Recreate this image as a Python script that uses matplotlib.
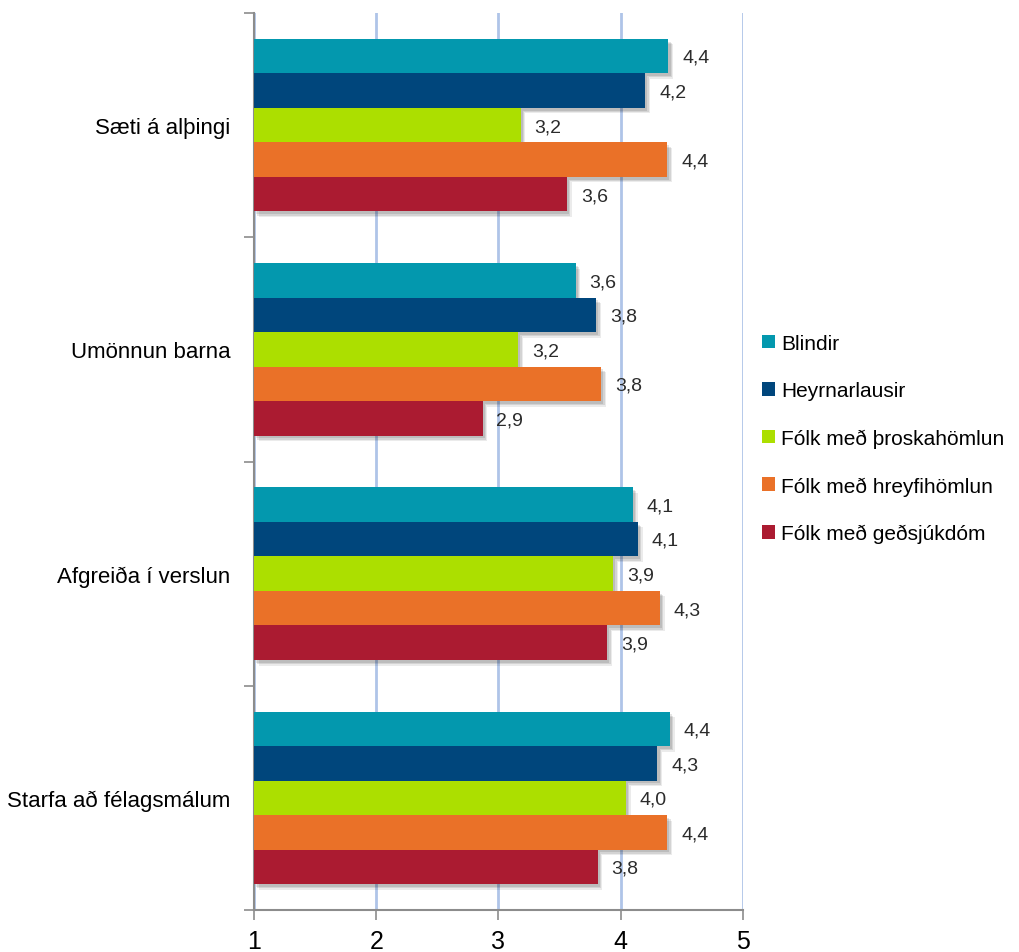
import matplotlib
matplotlib.use('Agg')
import matplotlib.pyplot as plt
import matplotlib.patheffects as pe
from matplotlib.patches import Patch
import numpy as np

plt.rcParams['font.family'] = ['Liberation Sans', 'DejaVu Sans']

# data
categories = ['Sæti á alþingi', 'Umönnun barna', 'Afgreiða í verslun', 'Starfa að félagsmálum']
series_names = ['Blindir', 'Heyrnarlausir', 'Fólk með þroskahömlun',
                'Fólk með hreyfihömlun', 'Fólk með geðsjúkdóm']
blindir = [4.39, 3.63, 4.10, 4.40]
heyrnarlausir = [4.20, 3.80, 4.14, 4.30]
throskahomlun = [3.18, 3.16, 3.94, 4.04]
hreyfihomlun = [4.38, 3.84, 4.32, 4.38]
gedsjukdom = [3.56, 2.87, 3.89, 3.81]
series_values = [blindir, heyrnarlausir, throskahomlun, hreyfihomlun, gedsjukdom]
colors = ['#0398AE', '#00467C', '#ACDF00', '#EA7128', '#AB1B31']

fig = plt.figure(figsize=(10.19, 9.53), dpi=100)
ax = fig.add_axes([254 / 1019, 42 / 953, 489 / 1019, 897 / 953])

# fake blurred drop shadow
shadow = [pe.SimplePatchShadow(offset=(1.5, -2), shadow_rgbFace='k', alpha=0.10),
          pe.SimplePatchShadow(offset=(2.5, -3), shadow_rgbFace='k', alpha=0.10),
          pe.SimplePatchShadow(offset=(3.5, -4), shadow_rgbFace='k', alpha=0.08),
          pe.Normal()]

y = np.arange(len(categories))
group_h = 0.77
bar_h = group_h / len(series_names)
for i, (name, vals, col) in enumerate(zip(series_names, series_values, colors)):
    pos = y - group_h / 2 + bar_h * (i + 0.5)
    vals = np.array(vals)
    bars = ax.barh(pos, vals - 1, left=1, height=bar_h, color=col, zorder=3 + i * 0.01)
    for b in bars:
        b.set_path_effects(shadow)
    for p, v in zip(pos, vals):
        ax.annotate(f'{v:.1f}'.replace('.', ','), (v, p), xytext=(10, -1),
                    textcoords='offset points', ha='left', va='center',
                    fontsize=14, color='#2b2b2b', zorder=10)

ax.set_xlim(1, 5)
ax.set_ylim(len(categories) - 0.5, -0.5)

ax.set_xticks([1, 2, 3, 4, 5])
ax.tick_params(axis='x', labelsize=18, length=7, width=1.2, color='#8c8c8c', pad=7)
ax.xaxis.grid(True, color='#AFC4E8', linewidth=2, zorder=0)
ax.set_axisbelow(True)

ax.set_yticks(np.arange(len(categories) + 1) - 0.5)
ax.set_yticklabels([])
ax.set_yticks(y, minor=True)
ax.set_yticklabels(categories, minor=True, fontsize=16)
ax.tick_params(axis='y', which='major', length=7, width=1.2, color='#8c8c8c')
ax.tick_params(axis='y', which='minor', length=0, pad=17)

for s in ['top', 'right']:
    ax.spines[s].set_visible(False)
for s in ['left', 'bottom']:
    ax.spines[s].set_color('#8c8c8c')
    ax.spines[s].set_linewidth(1.5)

handles = [Patch(facecolor=c) for c in colors]
fig.legend(handles, series_names, loc='upper left', bbox_to_anchor=(762 / 1019, 1 - 335 / 953),
           frameon=False, fontsize=15, handlelength=0.63, handleheight=0.63,
           handletextpad=0.3, labelspacing=1.36, borderpad=0, borderaxespad=0)

fig.savefig('out.png', dpi=100)
